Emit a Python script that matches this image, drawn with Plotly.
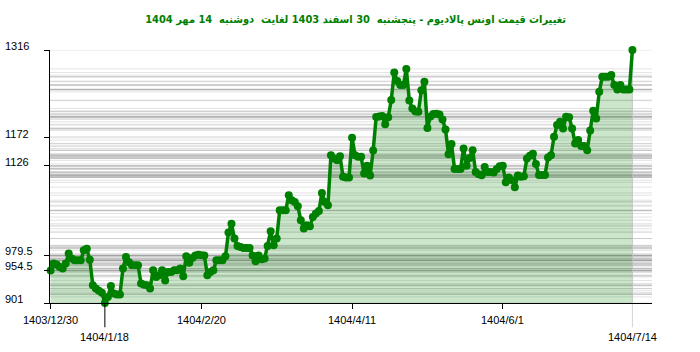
import plotly.graph_objects as go

title_text = "تغییرات قیمت اونس پالادیوم - پنجشنبه  30 اسفند 1403 لغایت  دوشنبه  14 مهر 1404"

prices = [
    954.5, 965.7, 964, 960, 957.5, 965.7, 982, 974, 971, 971,
    971, 987.5, 990, 972, 930, 924.6, 921, 918, 901, 911,
    929, 916.4, 915, 915, 957.5, 976.5, 968, 963, 963, 963,
    933, 931, 930, 924.6, 954.7, 943.7, 946.5, 954.7, 938, 952,
    952, 954.7, 954.7, 957.5, 944.8, 977.7, 967, 975, 979, 980,
    979.5, 979, 946.5, 952, 954.7, 971, 971, 971, 977.7, 1016.6,
    1031, 1006.7, 994.6, 993, 991.3, 991.3, 991.3, 979, 969.5, 979,
    972.8, 974, 994.6, 1018.7, 995.7, 1006.7, 1053, 1053, 1053, 1077.8,
    1069.6, 1066.8, 1059.8, 1036.8, 1023, 1028.6, 1027, 1042, 1047.8, 1052,
    1081.6, 1066.8, 1061.4, 1143.5, 1138, 1135, 1141.9, 1108, 1107, 1107,
    1172, 1143.5, 1140.7, 1140.7, 1113.5, 1126, 1110, 1151, 1206, 1207,
    1207.6, 1194.2, 1205.5, 1233.8, 1279, 1265, 1258.5, 1258.5, 1285, 1233,
    1220, 1215, 1214.6, 1250, 1264, 1188, 1207, 1211, 1211.5, 1210,
    1202, 1185.7, 1145, 1162, 1121, 1121, 1121, 1154.5, 1126, 1139,
    1151.7, 1116, 1112, 1110.7, 1124, 1116, 1116, 1115, 1121, 1125.5,
    1126, 1099, 1107, 1102.5, 1091, 1110, 1108, 1108.8, 1138, 1142.5,
    1146, 1129, 1111, 1111, 1111, 1139.7, 1143.5, 1173.6, 1192.8, 1198.2,
    1187.4, 1206.4, 1205.5, 1187.4, 1162.8, 1168.2, 1158.4, 1158.4, 1151.7, 1184,
    1216.3, 1203.8, 1247.4, 1272, 1272, 1272, 1274.8, 1258.5, 1251.4, 1258.5,
    1251.4, 1251.4, 1251.4, 1316,
]
idx = list(range(len(prices)))

x_tick_idx = [0, 50, 100, 150]
x_tick_labels = ["1403/12/30", "1404/2/20", "1404/4/11", "1404/6/1"]
x_low_idx = [18, 193]
x_low_labels = ["1404/1/18", "1404/7/14"]

y_tick_vals = [901, 954.5, 979.5, 1126, 1172, 1316]
y_tick_labels = ["901", "954.5", "979.5", "1126", "1172", "1316"]

GREEN = "#008000"
LABEL_FONT = dict(family="Liberation Sans, Arial, sans-serif", size=11, color="black")

fig = go.Figure()
fig.add_trace(go.Scatter(
    x=idx, y=prices, mode="lines", line=dict(width=0, color=GREEN),
    fill="tozeroy", fillcolor="rgba(0,128,0,0.2)", hoverinfo="skip", showlegend=False,
))
fig.add_trace(go.Scatter(
    x=idx, y=prices, mode="lines+markers",
    line=dict(color=GREEN, width=3.5), marker=dict(color=GREEN, size=8),
    cliponaxis=False, hoverinfo="skip", showlegend=False,
))

shapes = []
for v in prices:
    shapes.append(dict(type="line", xref="paper", x0=0, x1=1, yref="y", y0=v, y1=v,
                       line=dict(color="rgba(128,128,128,0.22)", width=1), layer="below"))
# drop lines for min date and last date
shapes.append(dict(type="line", xref="x", x0=x_low_idx[0], x1=x_low_idx[0], yref="paper",
                   y0=0, y1=-0.096, line=dict(color="black", width=1)))
shapes.append(dict(type="line", xref="x", x0=x_low_idx[1], x1=x_low_idx[1], yref="paper",
                   y0=1, y1=-0.096, line=dict(color="rgba(200,200,200,0.8)", width=1), layer="below"))

annotations = []
for v, t in zip(y_tick_vals, y_tick_labels):
    annotations.append(dict(text=t, xref="paper", x=0, xshift=-47, xanchor="left",
                            yref="y", y=v, yanchor="middle", yshift=4,
                            showarrow=False, font=LABEL_FONT))
for i, t in zip(x_tick_idx, x_tick_labels):
    annotations.append(dict(text=t, xref="x", x=i, xanchor="center", yref="paper", y=0,
                            yanchor="middle", yshift=-16.5, showarrow=False, font=LABEL_FONT))
for i, t in zip(x_low_idx, x_low_labels):
    annotations.append(dict(text=t, xref="x", x=i, xanchor="center", yref="paper", y=0,
                            yanchor="middle", yshift=-33.5, showarrow=False, font=LABEL_FONT))

fig.update_layout(
    width=700, height=352,
    margin=dict(l=50, r=48, t=50, b=49),
    paper_bgcolor="white", plot_bgcolor="white",
    title=dict(text="<b>" + title_text + "</b>", xref="container", x=0.508,
               y=1 - 19 / 352, yanchor="middle", xanchor="center",
               font=dict(family="DejaVu Sans Condensed, DejaVu Sans, sans-serif", size=11, color=GREEN)),
    xaxis=dict(range=[-0.2, 199.5], showgrid=False, zeroline=False, showline=True,
               linecolor="black", linewidth=1, ticks="outside", ticklen=5, tickcolor="black",
               tickvals=x_tick_idx, showticklabels=False, fixedrange=True),
    yaxis=dict(range=[901, 1316], showgrid=False, zeroline=False, showline=True,
               linecolor="black", linewidth=1, ticks="outside", ticklen=5, tickcolor="black",
               tickvals=y_tick_vals, showticklabels=False, fixedrange=True),
    shapes=shapes, annotations=annotations,
)

fig.write_html("out.html", config={"displayModeBar": False})
